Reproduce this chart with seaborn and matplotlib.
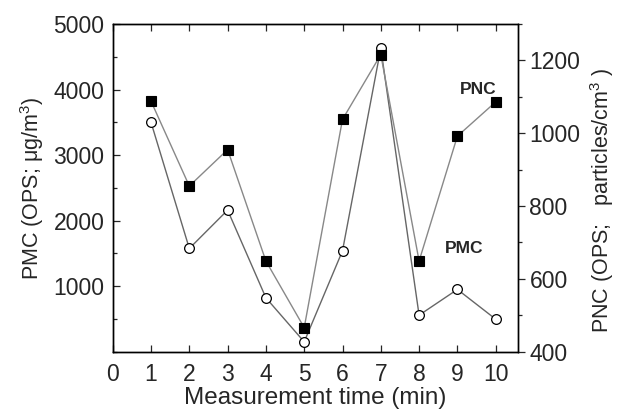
import matplotlib
matplotlib.use("Agg")
import matplotlib.pyplot as plt
from matplotlib.ticker import MultipleLocator
import seaborn as sns
import pandas as pd

time_min = [1, 2, 3, 4, 5, 6, 7, 8, 9, 10]
pmc = [3500, 1575, 2160, 822, 150, 1540, 4630, 557, 950, 496]
pnc = [1088, 855, 955, 649, 466, 1038, 1216, 649, 992, 1086]

sns.set_style("ticks")
plt.rcParams["font.family"] = ["Liberation Sans", "DejaVu Sans"]
plt.rcParams["mathtext.fontset"] = "custom"
plt.rcParams["mathtext.rm"] = "Liberation Sans"
plt.rcParams["mathtext.it"] = "Liberation Sans:italic"

df = pd.DataFrame({"t": time_min, "pmc": pmc, "pnc": pnc})

fig = plt.figure(figsize=(6.17, 4.12), dpi=100)
ax = fig.add_axes([0.1827, 0.1464, 0.6573, 0.7953])
ax2 = ax.twinx()

sns.lineplot(data=df, x="t", y="pmc", ax=ax, color="#666666", linewidth=1.0,
             marker="o", markersize=7, markerfacecolor="white",
             markeredgecolor="black", markeredgewidth=0.9)
sns.lineplot(data=df, x="t", y="pnc", ax=ax2, color="#888888", linewidth=1.0,
             marker="s", markersize=6.5, markerfacecolor="black",
             markeredgecolor="black", markeredgewidth=0.8)

fs_tick = 16.5
ax.set_xlim(0, 10.59)
ax.set_ylim(0, 5000)
ax2.set_ylim(400, 1300)

ax.xaxis.set_major_locator(MultipleLocator(1))
ax.yaxis.set_minor_locator(MultipleLocator(500))
ax2.yaxis.set_minor_locator(MultipleLocator(100))
ax.set_yticks([1000, 2000, 3000, 4000, 5000])
ax2.set_yticks([400, 600, 800, 1000, 1200])

ax.tick_params(axis="x", which="major", direction="in", top=True, length=5,
               width=0.9, labelsize=fs_tick, pad=8)
ax.tick_params(axis="y", which="major", direction="in", length=5, width=0.9,
               labelsize=fs_tick, pad=6)
ax.tick_params(axis="y", which="minor", direction="in", length=3, width=0.9)
ax2.tick_params(axis="y", which="major", direction="out", length=5, width=0.9,
                labelsize=fs_tick, pad=3)
ax2.tick_params(axis="y", which="minor", direction="out", length=3, width=0.9)

for a in (ax, ax2):
    for s in a.spines.values():
        s.set_visible(True)
        s.set_linewidth(1.0)
        s.set_color("black")

ax.set_xlabel("Measurement time (min)", fontsize=17.5, labelpad=1)
ax.set_ylabel("PMC (OPS; μg/m$^3$)", fontsize=15.5, labelpad=5)
ax2.set_ylabel("PNC (OPS;   particles/cm$^3$ )", fontsize=15.5)
ax2.yaxis.set_label_coords(1.172, 0.463)

ax2.text(9.55, 1121, "PNC", fontsize=12.5, fontweight="bold", ha="center", va="center")
ax.text(9.17, 1580, "PMC", fontsize=12.5, fontweight="bold", ha="center", va="center")

fig.savefig("out.png", dpi=100)
